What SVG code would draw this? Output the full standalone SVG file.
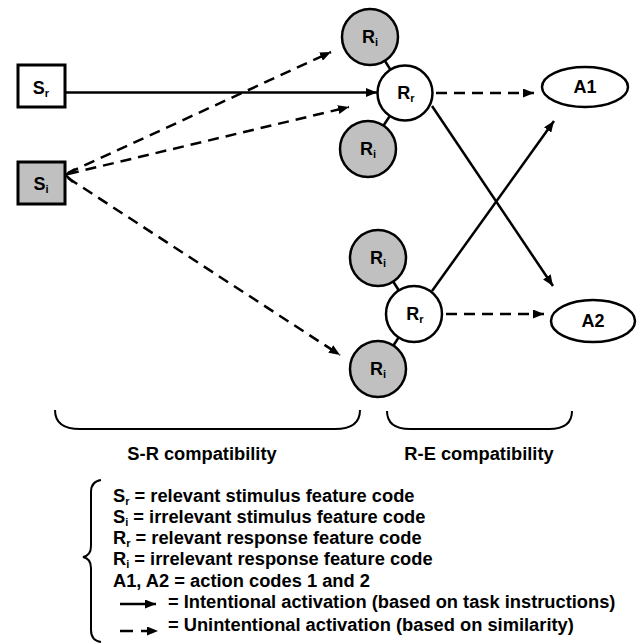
<svg xmlns="http://www.w3.org/2000/svg" width="638" height="644" viewBox="0 0 638 644">
<style>
.box{fill:#fff;stroke:#000;stroke-width:3}
.grey{fill:#c0c0c0}
.circ{stroke:#000;stroke-width:2.5}
.ell{fill:#fff;stroke:#000;stroke-width:2.5}
.ln{fill:none;stroke:#000;stroke-width:2.5}
.dash{stroke-dasharray:11 7}
.brace{fill:none;stroke:#000;stroke-width:2}
text{font-family:"Liberation Sans",Arial,sans-serif;font-weight:bold;fill:#000}
.lbl{font-size:18px;text-anchor:middle}
.sub{font-size:11px}
.leg{font-size:18.3px}
</style>
<defs>
<marker id="ah" markerUnits="userSpaceOnUse" markerWidth="11" markerHeight="9" refX="11" refY="4.5" orient="auto">
<path d="M0,0 L11,4.5 L0,9 z" fill="#000"/>
</marker>
</defs>
<g id="connectors">
<line class="ln" x1="65" y1="92.5" x2="377" y2="92.5" marker-end="url(#ah)"/>
<line class="ln dash" x1="68" y1="173" x2="331" y2="52" marker-end="url(#ah)"/>
<line class="ln dash" x1="68" y1="174" x2="349" y2="107" marker-end="url(#ah)"/>
<line class="ln dash" x1="68" y1="178" x2="340" y2="355" marker-end="url(#ah)"/>
<path class="ln" d="M75,169 L65.5,175 L73,182"/>
<line class="ln dash" x1="436" y1="93" x2="534" y2="93" marker-end="url(#ah)"/>
<line class="ln dash" x1="446" y1="314" x2="544" y2="314" marker-end="url(#ah)"/>
<line class="ln" x1="432" y1="106" x2="553" y2="286" marker-end="url(#ah)"/>
<line class="ln" x1="432" y1="291" x2="554" y2="121" marker-end="url(#ah)"/>
<line class="ln" x1="370" y1="37" x2="405" y2="93"/>
<line class="ln" x1="368" y1="149" x2="405" y2="93"/>
<line class="ln" x1="378" y1="258" x2="414" y2="314"/>
<line class="ln" x1="378" y1="369" x2="414" y2="314"/>
</g>
<g id="Sr">
<rect class="box" x="18" y="65" width="47" height="42"/>
<text class="lbl" x="41" y="94">S<tspan class="sub" dy="3">r</tspan></text>
</g>
<g id="Si">
<rect class="box grey" x="18" y="162" width="47" height="42"/>
<text class="lbl" x="41" y="190">S<tspan class="sub" dy="3">i</tspan></text>
</g>
<g id="Ri_top1">
<circle class="circ grey" cx="370" cy="37" r="28"/>
<text class="lbl" x="370" y="43">R<tspan class="sub" dy="3">i</tspan></text>
</g>
<g id="Rr_top">
<circle class="circ" fill="#fff" cx="405" cy="93" r="27.5"/>
<text class="lbl" x="406" y="99">R<tspan class="sub" dy="3">r</tspan></text>
</g>
<g id="Ri_top2">
<circle class="circ grey" cx="368" cy="149" r="28"/>
<text class="lbl" x="368" y="155">R<tspan class="sub" dy="3">i</tspan></text>
</g>
<g id="Ri_bot1">
<circle class="circ grey" cx="378" cy="258" r="28"/>
<text class="lbl" x="378" y="264">R<tspan class="sub" dy="3">i</tspan></text>
</g>
<g id="Rr_bot">
<circle class="circ" fill="#fff" cx="414" cy="314" r="28"/>
<text class="lbl" x="415" y="320">R<tspan class="sub" dy="3">r</tspan></text>
</g>
<g id="Ri_bot2">
<circle class="circ grey" cx="378" cy="369" r="28"/>
<text class="lbl" x="378" y="375">R<tspan class="sub" dy="3">i</tspan></text>
</g>
<g id="A1">
<ellipse class="ell" cx="585" cy="87" rx="43" ry="20"/>
<text class="lbl" x="585" y="93">A1</text>
</g>
<g id="A2">
<ellipse class="ell" cx="593" cy="321" rx="42" ry="21"/>
<text class="lbl" x="593" y="327">A2</text>
</g>
<g id="braces">
<path class="brace" d="M55,410 C55,422 62,429 80,429 L335,429 C353,429 360,422 360,410"/>
<path class="brace" d="M387,411 C387,423 394,429 410,429 L549,429 C565,429 572,423 572,411"/>
<path class="brace" d="M101,480 C94,481 91,485 91,492 L91,546 C91,552 88,556 83,557 C88,558 91,562 91,568 L91,630 C91,637 94,641 101,642"/>
</g>
<g id="labels">
<text class="leg" x="202" y="460" text-anchor="middle">S-R compatibility</text>
<text class="leg" x="479" y="460" text-anchor="middle">R-E compatibility</text>
</g>
<g id="legend">
<text class="leg" x="113" y="502">S<tspan class="sub" dy="3">r</tspan><tspan dy="-3"> = relevant stimulus feature code</tspan></text>
<text class="leg" x="113" y="523">S<tspan class="sub" dy="3">i</tspan><tspan dy="-3"> = irrelevant stimulus feature code</tspan></text>
<text class="leg" x="113" y="544">R<tspan class="sub" dy="3">r</tspan><tspan dy="-3"> = relevant response feature code</tspan></text>
<text class="leg" x="113" y="565">R<tspan class="sub" dy="3">i</tspan><tspan dy="-3"> = irrelevant response feature code</tspan></text>
<text class="leg" x="113" y="587">A1, A2 = action codes 1 and 2</text>
<text class="leg" x="168" y="608">= Intentional activation (based on task instructions)</text>
<text class="leg" x="168" y="631">= Unintentional activation (based on similarity)</text>
<line class="ln" x1="120" y1="604" x2="156" y2="604" marker-end="url(#ah)"/>
<line class="ln" x1="120" y1="631" x2="158" y2="631" stroke-dasharray="13 8" marker-end="url(#ah)"/>
</g>
</svg>
